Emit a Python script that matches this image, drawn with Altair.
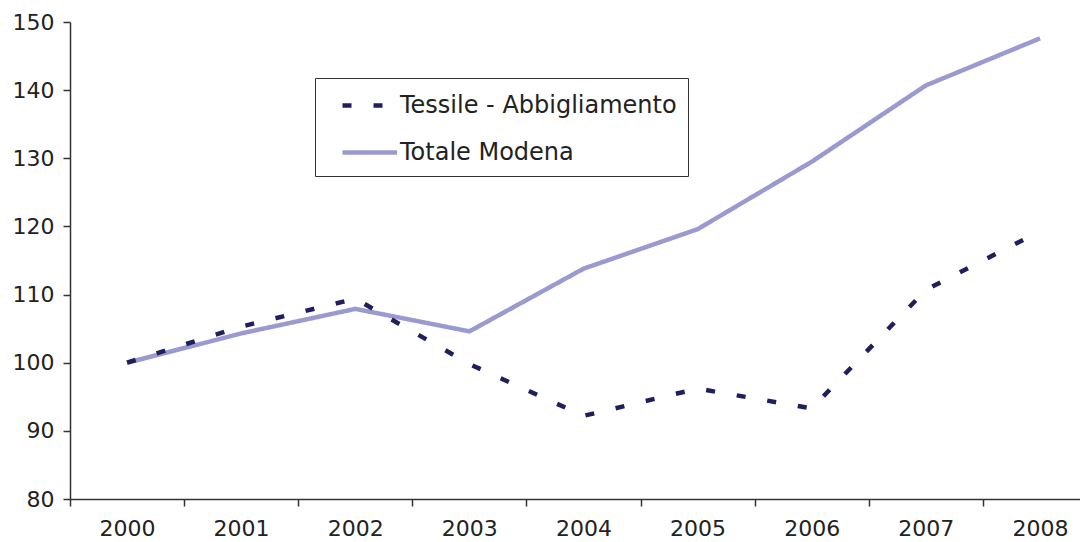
import altair as alt
import pandas as pd

years = [2000, 2001, 2002, 2003, 2004, 2005, 2006, 2007, 2008]
tessile = [100.0, 105.3, 109.4, 99.8, 92.2, 96.2, 93.3, 110.7, 119.3]
totale = [100.0, 104.3, 107.9, 104.6, 113.8, 119.6, 129.5, 140.7, 147.6]
series_names = ["Tessile - Abbigliamento", "Totale Modena"]
series_colors = ["#1E1F5C", "#9A9AD0"]
y_ticks = [80, 90, 100, 110, 120, 130, 140, 150]

rows = []
for yr, a, b in zip(years, tessile, totale):
    rows.append({"anno": yr, "serie": series_names[0], "valore": a})
    rows.append({"anno": yr, "serie": series_names[1], "valore": b})
df = pd.DataFrame(rows)

x_edges = [yr - 0.5 for yr in years]

FONT = "DejaVu Sans"

legend = alt.Legend(
    title=None,
    orient="none",
    legendX=245,
    legendY=56,
    padding=11,
    strokeColor="#333333",
    fillColor="white",
    symbolType="M0.0,0H3.9",
    symbolSize=784,
    symbolStrokeWidth=4.5,
    labelFontSize=24,
    labelFont=FONT,
    labelColor="#222222",
    labelLimit=500,
    labelOffset=41,
    rowPadding=18,
)

x_enc = alt.X(
    "anno:Q",
    scale=alt.Scale(domain=[1999.5, 2008.35], nice=False, zero=False),
    axis=alt.Axis(
        values=x_edges,
        title=None,
        grid=False,
        labelExpr="datum.value > 2008 ? '' : format(datum.value + 0.5, 'd')",
        labelOffset=57,
        labelFlush=False,
        labelOverlap=False,
        labelBound=False,
        tickSize=7,
        labelPadding=12,
        labelFontSize=22,
        labelFont=FONT,
        labelColor="#222222",
    ),
)
y_enc = alt.Y(
    "valore:Q",
    scale=alt.Scale(domain=[80, 150], nice=False, zero=False),
    axis=alt.Axis(
        values=y_ticks,
        title=None,
        grid=False,
        tickSize=7,
        labelPadding=9,
        labelFontSize=22,
        labelFont=FONT,
        labelColor="#222222",
    ),
)
color_enc = alt.Color(
    "serie:N",
    scale=alt.Scale(domain=series_names, range=series_colors),
    legend=legend,
)
dash_enc = alt.StrokeDash(
    "serie:N",
    scale=alt.Scale(domain=series_names, range=[[9, 22], [1, 0]]),
    legend=legend,
)

base = alt.Chart(df).mark_line(strokeWidth=4.5, strokeCap="butt").encode(
    x=x_enc, y=y_enc, color=color_enc, strokeDash=dash_enc
)

chart = alt.layer(
    base.transform_filter(alt.datum.serie == series_names[1]),
    base.transform_filter(alt.datum.serie == series_names[0]),
).properties(
    width=1010,
    height=477,
    autosize=alt.AutoSizeParams(type="none"),
    padding={"left": 62, "top": 14, "right": 0, "bottom": 42},
).configure_view(
    stroke=None
).configure_axis(
    domainColor="#333333",
    tickColor="#333333",
    domainWidth=1.5,
    tickWidth=1.5,
)

chart.save("out.html", embed_options={"renderer": "svg", "actions": False})
